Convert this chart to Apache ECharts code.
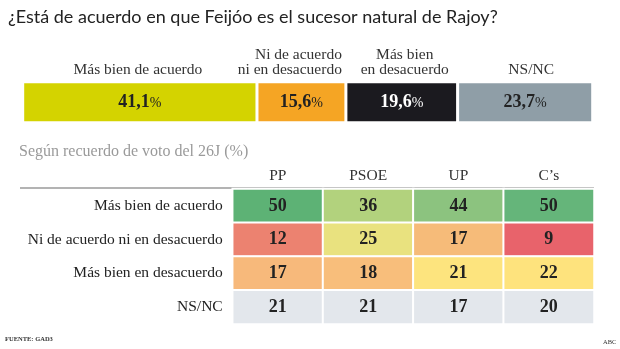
<!DOCTYPE html>
<html><head><meta charset="utf-8">
<script src="https://cdn.jsdelivr.net/npm/echarts@6/dist/echarts.min.js"></script>
<style>html,body{margin:0;padding:0;background:#fff}#c{width:620px;height:349px}</style>
</head><body><div id="c"></div>
<script>
// ---- Data ----
const titleText = '¿Está de acuerdo en que Feijóo es el sucesor natural de Rajoy?';
const topCategories = ['Más bien de acuerdo', 'Ni de acuerdo\nni en desacuerdo', 'Más bien\nen desacuerdo', 'NS/NC'];
const topValues = [41.1, 15.6, 19.6, 23.7];
const subtitleText = 'Según recuerdo de voto del 26J (%)';
const parties = ['PP', 'PSOE', 'UP', 'C’s'];
const answers = ['Más bien de acuerdo', 'Ni de acuerdo ni en desacuerdo', 'Más bien en desacuerdo', 'NS/NC'];
// rows = answers, columns = parties
const valPP   = [50, 12, 17, 21];
const valPSOE = [36, 25, 18, 21];
const valUP   = [44, 17, 21, 17];
const valCs   = [50, 9, 22, 20];
const sourceText = 'FUENTE: GAD3';
const brandText = 'ABC';

// ---- Styles ----
const topColors = ['#d4d300', '#f5a524', '#1b1a1f', '#8f9ea7'];
const topTextColors = ['#222', '#222', '#fff', '#222'];
const cellColors = [
  ['#5db275', '#ec8270', '#f7b97b', '#e3e7ec'],
  ['#b2d27d', '#e9e27f', '#f8be7b', '#e3e7ec'],
  ['#8cc37f', '#f6bb79', '#fde47e', '#e3e7ec'],
  ['#65b57a', '#e8636b', '#fee37d', '#e3e7ec']
];
const SERIF = '"Liberation Serif", "DejaVu Serif", serif';
const LBL = 15.5;

const cols = [valPP, valPSOE, valUP, valCs];
const heatData = [];
cols.forEach((col, ci) => col.forEach((v, ri) => {
  heatData.push({ value: [ci, ri, v], itemStyle: { color: cellColors[ci][ri] } });
}));

const chart = echarts.init(document.getElementById('c'), null, { renderer: 'canvas' });

const topSeries = topValues.map((v, i) => ({
  type: 'bar', stack: 'total', xAxisIndex: 0, yAxisIndex: 0,
  barWidth: '100%', silent: true,
  data: [v],
  itemStyle: { color: topColors[i], borderColor: '#fff', borderWidth: 1.5 },
  label: {
    show: true, position: 'inside',
    formatter: p => '{v|' + p.value.toFixed(1).replace('.', ',') + '}{p|%}',
    rich: {
      v: { fontFamily: SERIF, fontSize: 18, fontWeight: 'bold', color: topTextColors[i] },
      p: { fontFamily: SERIF, fontSize: 14, color: topTextColors[i], padding: [2, 0, 0, 0] }
    }
  }
}));

chart.setOption({
  animation: false,
  title: {
    text: titleText, left: 3, top: 3,
    textStyle: { fontFamily: 'Lato', fontSize: 18, fontWeight: 'normal', color: '#222' }
  },
  grid: [
    { left: 22.7, top: 81.7, width: 570, height: 41, containLabel: false },
    { left: 232.7, top: 189, right: 26, bottom: 25, containLabel: false }
  ],
  xAxis: [
    { gridIndex: 0, type: 'value', min: 0, max: 100, show: false },
    { gridIndex: 1, type: 'category', data: parties, position: 'top',
      axisLine: { show: false }, axisTick: { show: false }, splitLine: { show: false },
      axisLabel: { margin: 5, fontFamily: SERIF, fontSize: LBL, color: '#333' } }
  ],
  yAxis: [
    { gridIndex: 0, type: 'category', data: ['total'], show: false },
    { gridIndex: 1, type: 'category', data: answers, inverse: true,
      axisLine: { show: false }, axisTick: { show: false }, splitLine: { show: false },
      axisLabel: { margin: 10, fontFamily: SERIF, fontSize: LBL, color: '#222' } }
  ],
  series: topSeries.concat([{
    type: 'heatmap', xAxisIndex: 1, yAxisIndex: 1, data: heatData, silent: true,
    itemStyle: { borderColor: '#fff', borderWidth: 2 },
    label: { show: true, fontFamily: SERIF, fontSize: 18, fontWeight: 'bold', color: '#222' }
  }])
});

// Category labels above the top bar, positioned via the bar axis scale
const graphics = [];
let cum = 0;
topValues.forEach((v, i) => {
  const start = chart.convertToPixel({ gridIndex: 0 }, [cum, 0])[0];
  const end = chart.convertToPixel({ gridIndex: 0 }, [cum + v, 0])[0];
  cum += v;
  const right = i === 1;
  graphics.push({
    type: 'text',
    x: right ? end - 4 : (start + end) / 2 + (i === 3 ? 6 : (i === 2 ? 3 : -2)),
    y: 77.5,
    style: {
      text: topCategories[i], fontFamily: SERIF, fontSize: LBL, lineHeight: 15,
      fill: '#333', align: right ? 'right' : 'center', verticalAlign: 'bottom'
    }
  });
});
graphics.push(
  { type: 'text', x: 19, y: 152, style: { text: subtitleText, fontFamily: SERIF, fontSize: 16, fill: '#9a9a9a', verticalAlign: 'middle' } },
  { type: 'line', shape: { x1: 20, y1: 188, x2: 594, y2: 188 }, style: { stroke: '#9a9a9a', lineWidth: 1.5 } },
  { type: 'text', x: 5, y: 339, style: { text: sourceText, fontFamily: SERIF, fontSize: 6.5, fontWeight: 'bold', fill: '#333', verticalAlign: 'middle' } },
  { type: 'text', x: 603, y: 342, style: { text: brandText, fontFamily: SERIF, fontSize: 6.5, fill: '#333', verticalAlign: 'middle' } }
);
chart.setOption({ graphic: graphics });
</script>
</body></html>
